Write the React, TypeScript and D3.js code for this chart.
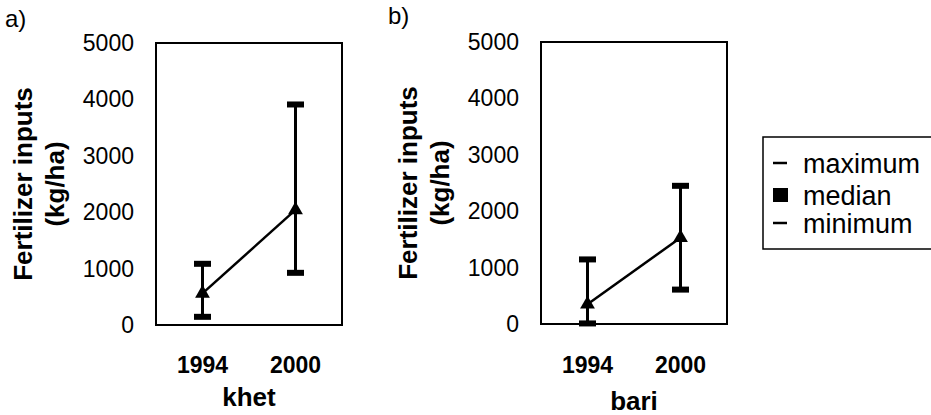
import React from "react";
import * as d3 from "d3";

const categories = ["1994", "2000"];
const yTicks = [0, 1000, 2000, 3000, 4000, 5000];

const khetMax = [1085, 3910];
const khetMedian = [560, 2040];
const khetMin = [145, 925];

const bariMax = [1145, 2450];
const bariMedian = [350, 1530];
const bariMin = [10, 610];

const legendLabels = ["maximum", "median", "minimum"];

const FONT = "'Liberation Sans', Arial, Helvetica, sans-serif";
const W = 931;
const H = 415;

type PanelProps = {
  left: number;
  right: number;
  top: number;
  bottom: number;
  maxV: number[];
  medV: number[];
  minV: number[];
  letter: string;
  letterX: number;
  letterY: number;
  xTitle: string;
  xTitleY: number;
};

function Panel(p: PanelProps) {
  const y = d3.scaleLinear().domain([0, 5000]).range([p.bottom, p.top]);
  const x = d3.scalePoint<string>().domain(categories).range([p.left, p.right]).padding(0.5);
  const tri = d3.symbol().type(d3.symbolTriangle).size(95)() as string;
  const line = d3
    .line<number>()
    .x((_, i) => x(categories[i]) as number)
    .y((d) => y(d));
  const mid = (p.left + p.right) / 2;
  const yMid = (p.top + p.bottom) / 2;
  return (
    <g>
      <text x={p.letterX} y={p.letterY} fontFamily={FONT} fontSize={24} fill="#000">
        {p.letter}
      </text>
      <rect
        x={p.left}
        y={p.top}
        width={p.right - p.left}
        height={p.bottom - p.top}
        fill="none"
        stroke="#000"
        strokeWidth={2}
      />
      {yTicks.map((t) => (
        <text
          key={t}
          x={p.left - 22}
          y={y(t)}
          textAnchor="end"
          dominantBaseline="central"
          fontFamily={FONT}
          fontSize={23}
          fill="#000"
        >
          {t}
        </text>
      ))}
      <text
        transform={`translate(${p.left - 133},${yMid}) rotate(-90)`}
        textAnchor="middle"
        dominantBaseline="central"
        fontFamily={FONT}
        fontWeight="bold"
        fontSize={26}
        fill="#000"
      >
        Fertilizer inputs
      </text>
      <text
        transform={`translate(${p.left - 101},${yMid}) rotate(-90)`}
        textAnchor="middle"
        dominantBaseline="central"
        fontFamily={FONT}
        fontWeight="bold"
        fontSize={26}
        fill="#000"
      >
        (kg/ha)
      </text>
      {categories.map((c) => (
        <text
          key={c}
          x={x(c)}
          y={373}
          textAnchor="middle"
          fontFamily={FONT}
          fontWeight="bold"
          fontSize={23}
          fill="#000"
        >
          {c}
        </text>
      ))}
      <text
        x={mid}
        y={p.xTitleY}
        textAnchor="middle"
        fontFamily={FONT}
        fontWeight="bold"
        fontSize={26}
        fill="#000"
      >
        {p.xTitle}
      </text>
      <path d={line(p.medV) as string} fill="none" stroke="#000" strokeWidth={2.5} />
      {categories.map((c, i) => {
        const cx = x(c) as number;
        return (
          <g key={c}>
            <line x1={cx} x2={cx} y1={y(p.maxV[i])} y2={y(p.minV[i])} stroke="#000" strokeWidth={3} />
            <rect x={cx - 8.5} y={y(p.maxV[i]) - 3} width={17} height={6} fill="#000" />
            <rect x={cx - 8.5} y={y(p.minV[i]) - 3} width={17} height={6} fill="#000" />
            <path d={tri} transform={`translate(${cx},${y(p.medV[i])})`} fill="#000" />
          </g>
        );
      })}
    </g>
  );
}

export default function App() {
  const markY = [163, 195, 223];
  return (
    <svg
      width={W}
      height={H}
      style={{ position: "absolute", left: 0, top: 0, background: "#fff" }}
    >
      <rect x={0} y={0} width={W} height={H} fill="#fff" />
      <Panel
        left={156}
        right={342}
        top={43}
        bottom={325}
        maxV={khetMax}
        medV={khetMedian}
        minV={khetMin}
        letter="a)"
        letterX={5}
        letterY={27}
        xTitle="khet"
        xTitleY={406}
      />
      <Panel
        left={541}
        right={727}
        top={42}
        bottom={324}
        maxV={bariMax}
        medV={bariMedian}
        minV={bariMin}
        letter="b)"
        letterX={388}
        letterY={24}
        xTitle="bari"
        xTitleY={410}
      />
      <g>
        <rect x={763} y={137} width={200} height={112} fill="#fff" stroke="#000" strokeWidth={1.5} />
        {legendLabels.map((l, i) => (
          <g key={l}>
            {i === 1 ? (
              <rect x={773} y={markY[i] - 7} width={15} height={14} fill="#000" />
            ) : (
              <line x1={773} x2={787} y1={markY[i]} y2={markY[i]} stroke="#000" strokeWidth={2.5} />
            )}
            <text x={803} y={markY[i] + 10} fontFamily={FONT} fontSize={27} fill="#000">
              {l}
            </text>
          </g>
        ))}
      </g>
    </svg>
  );
}
